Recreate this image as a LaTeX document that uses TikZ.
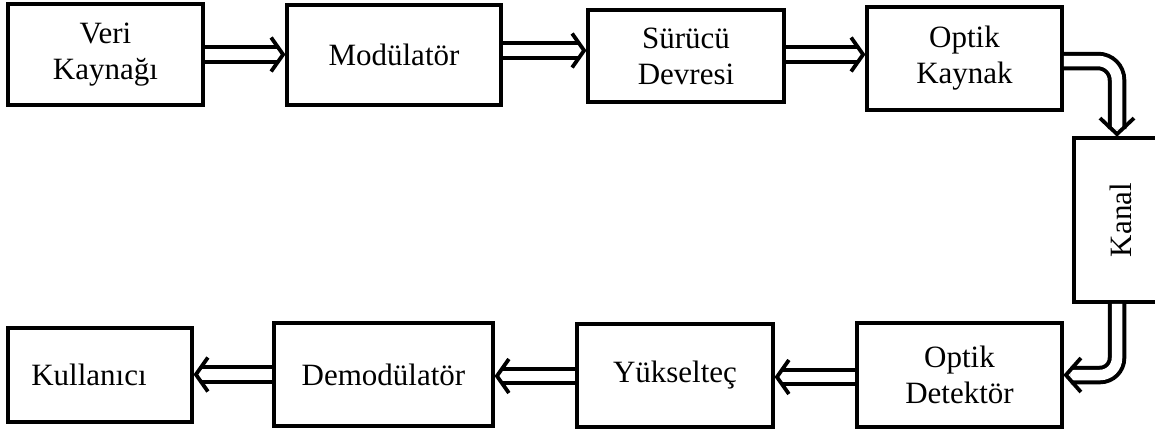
\documentclass[tikz,border=0pt]{standalone}
\usepackage{fontspec}
\setmainfont{Liberation Serif}
\usetikzlibrary{decorations.markings}
\begin{document}
\begin{tikzpicture}[x=1pt,y=-1pt,
  blk/.style={draw, line width=3.8pt, inner sep=0pt, align=center,
    font=\fontsize{31}{36}\selectfont},
  dbl/.style={draw, line width=18.5pt, shorten >=7pt,
    postaction={draw=white, line width=10.5pt},
    postaction={decorate, decoration={markings, mark=at position 1 with {
      \draw[black, line width=3.8pt, miter limit=10, shorten >=0pt, sharp corners]
        (-#1,17pt) -- (-2pt,0pt) -- (-#1,-17pt);}}}},
  dbl/.default=14pt]
\useasboundingbox (0,0) rectangle (1155,429);
\clip (0,0) rectangle (1155,429);
\node[blk, minimum width=195pt, minimum height=101pt] (veri) at (105.5,54.5) {Veri\\Kaynağı};
\node[blk, minimum width=214pt, minimum height=100pt] (mod) at (394,55) {Modülatör};
\node[blk, minimum width=196pt, minimum height=92pt] (sur) at (686,56) {Sürücü\\Devresi};
\node[blk, minimum width=195pt, minimum height=103pt] (ok) at (964.5,58.5) {Optik\\Kaynak};
\node[blk, minimum width=86pt, minimum height=164pt] (kanal) at (1117,220) {};
\node[rotate=90, font=\fontsize{31}{36}\selectfont] (kanaltxt) at (1121,220) {Kanal};
\node[blk, minimum width=205pt, minimum height=104pt] (od) at (959.5,375) {Optik\\Detektör};
\node[blk, minimum width=196pt, minimum height=103pt] (yuk) at (675,375.5) {Yükselteç};
\node[blk, minimum width=219pt, minimum height=103pt] (dem) at (383.5,374.5) {Demodülatör};
\node[blk, minimum width=184pt, minimum height=94pt] (kul) at (100,375) {\hspace*{-22pt}Kullanıcı};
\draw[dbl] (veri.east) -- (veri.east -| mod.west);
\draw[dbl] ([yshift=4.5pt]mod.east) -- ([yshift=4.5pt]mod.east -| sur.west);
\draw[dbl] ([yshift=1.5pt]sur.east) -- ([yshift=1.5pt]sur.east -| ok.west);
\draw[dbl=18pt, rounded corners=19pt] ([yshift=-2.5pt]ok.east) -| (kanal.north);
\draw[dbl=17pt, rounded corners=17pt] (kanal.south) |- (od.east);
\draw[dbl] ([yshift=-2pt]od.west) -- ([yshift=-2pt]od.west -| yuk.east);
\draw[dbl] ([yshift=-0.5pt]yuk.west) -- ([yshift=-0.5pt]yuk.west -| dem.east);
\draw[dbl] (dem.west) -- (dem.west -| kul.east);
\end{tikzpicture}
\end{document}
